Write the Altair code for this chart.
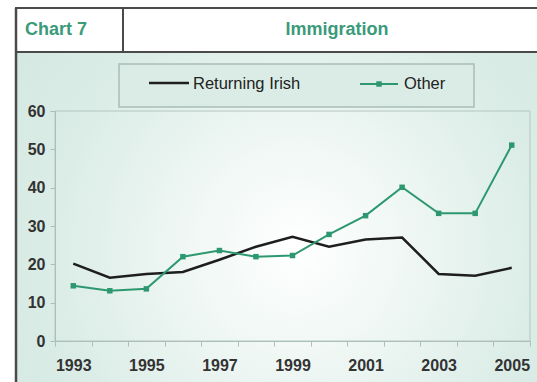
import altair as alt
import pandas as pd

# ---- data ----
years = list(range(1993, 2006))
returning_irish = [20.2, 16.5, 17.5, 18.0, 21.2, 24.6, 27.2, 24.6, 26.5, 27.0, 17.5, 17.0, 19.1]
other = [14.4, 13.1, 13.6, 22.0, 23.6, 22.0, 22.3, 27.8, 32.7, 40.1, 33.3, 33.3, 51.1]
series_names = ["Returning Irish", "Other"]
y_tick_values = [0, 10, 20, 30, 40, 50, 60]
chart_label = "Chart 7"
chart_title = "Immigration"

GREEN = "#2d9870"
TITLE_GREEN = "#3a9a7a"
BLACK = "#1e1e1e"
FRAME = "#4a4a4a"
FONT = "Liberation Sans"

df = pd.DataFrame({
    "year": years * 2,
    "value": returning_irish + other,
    "series": [series_names[0]] * len(years) + [series_names[1]] * len(years),
})
df_irish = df[df.series == series_names[0]]
df_other = df[df.series == series_names[1]]

W, H = 475, 230
deco = alt.Chart(pd.DataFrame({"k": [0]}))

# outer mint background with radial glow
bg = deco.mark_rect(
    fill=alt.RadialGradient(
        gradient="radial",
        stops=[
            alt.GradientStop(offset=0, color="#ffffff"),
            alt.GradientStop(offset=0.25, color="#f1f8f5"),
            alt.GradientStop(offset=0.6, color="#dcede7"),
            alt.GradientStop(offset=1, color="#d0e5de"),
        ],
        x1=0.53, y1=0.55, r1=0, x2=0.53, y2=0.55, r2=0.75,
    )
).encode(x=alt.value(-39), x2=alt.value(490), y=alt.value(-59), y2=alt.value(280))

# header row
header = deco.mark_rect(fill="white", stroke=FRAME, strokeWidth=2).encode(
    x=alt.value(-39), x2=alt.value(495), y=alt.value(-103), y2=alt.value(-59)
)
left_border = deco.mark_rule(stroke=FRAME, strokeWidth=2.5).encode(
    x=alt.value(-39), y=alt.value(-103), y2=alt.value(280)
)
divider = deco.mark_rule(stroke=FRAME, strokeWidth=2).encode(
    x=alt.value(68), y=alt.value(-103), y2=alt.value(-59)
)
label_txt = deco.mark_text(
    text=chart_label, font=FONT, fontSize=18, fontWeight="bold",
    color=TITLE_GREEN, align="left", baseline="middle"
).encode(x=alt.value(-30), y=alt.value(-81))
title_txt = deco.mark_text(
    text=chart_title, font=FONT, fontSize=18, fontWeight="bold",
    color=TITLE_GREEN, align="center", baseline="middle"
).encode(x=alt.value(282), y=alt.value(-81))

# legend box
leg_box = deco.mark_rect(fill="#dbece6", stroke="#a9bdb6", strokeWidth=1.5).encode(
    x=alt.value(64), x2=alt.value(419), y=alt.value(-47), y2=alt.value(-4)
)
leg_line1 = deco.mark_rule(stroke=BLACK, strokeWidth=2.5).encode(
    x=alt.value(94), x2=alt.value(134), y=alt.value(-28)
)
leg_text1 = deco.mark_text(
    text=series_names[0], font=FONT, fontSize=16.5, color="#222222",
    align="left", baseline="middle"
).encode(x=alt.value(138), y=alt.value(-27))
leg_line2 = deco.mark_rule(stroke=GREEN, strokeWidth=2).encode(
    x=alt.value(305), x2=alt.value(343), y=alt.value(-27)
)
leg_pt2 = deco.mark_point(shape="square", filled=True, size=30, color=GREEN, opacity=1).encode(
    x=alt.value(324), y=alt.value(-27)
)
leg_text2 = deco.mark_text(
    text=series_names[1], font=FONT, fontSize=16.5, color="#222222",
    align="left", baseline="middle"
).encode(x=alt.value(349), y=alt.value(-27))

# plot frame
frame = deco.mark_rect(fill="transparent", stroke="#b3c6bf", strokeWidth=1).encode(
    x=alt.value(0), x2=alt.value(W), y=alt.value(0), y2=alt.value(H)
)

x_enc = alt.X(
    "year:O",
    scale=alt.Scale(type="band", paddingInner=0, paddingOuter=0),
    axis=alt.Axis(
        title=None, labelAngle=0, labelFont=FONT, labelFontSize=16,
        labelFontWeight="bold", labelColor="#333333", labelPadding=11,
        labelExpr="datum.value % 2 == 1 ? datum.label : ''", labelOverlap=False,
        tickBand="extent", tickSize=5, tickColor="#aebfb9", domainColor="#aebfb9",
        grid=False, zindex=1,
    ),
)
y_enc = alt.Y(
    "value:Q",
    scale=alt.Scale(domain=[0, 60], nice=False),
    axis=alt.Axis(
        title=None, values=y_tick_values, labelFont=FONT, labelFontSize=16,
        labelFontWeight="bold", labelColor="#333333", labelPadding=5,
        tickSize=5, tickColor="#aebfb9", domainColor="#aebfb9",
        grid=False, zindex=1,
    ),
)

irish_line = alt.Chart(df_irish).mark_line(color=BLACK, strokeWidth=2.5).encode(x=x_enc, y=y_enc)
other_line = alt.Chart(df_other).mark_line(color=GREEN, strokeWidth=2).encode(x=x_enc, y=y_enc)
other_pts = alt.Chart(df_other).mark_point(
    shape="square", filled=True, size=30, color=GREEN, opacity=1
).encode(x=x_enc, y=y_enc)

chart = alt.layer(
    bg, header, left_border, divider, label_txt, title_txt,
    leg_box, leg_line1, leg_text1, leg_line2, leg_pt2, leg_text2,
    frame, irish_line, other_line, other_pts,
).properties(
    width=W, height=H,
    padding={"left": 55, "top": 111, "right": 7, "bottom": 41},
    autosize="none",
    background="white",
).configure_view(stroke="transparent")

chart.save("out.html", embed_options={"renderer": "svg", "actions": False})
